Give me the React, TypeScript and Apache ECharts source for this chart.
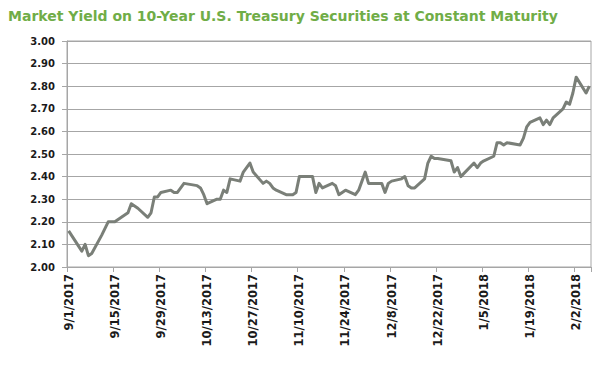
import React, { useEffect, useRef } from "react";
import * as echarts from "echarts";

const titleText = "Market Yield on 10-Year U.S. Treasury Securities at Constant Maturity";

// Business days with a published yield (percent)
const dates: string[] = [
  "9/1/2017", "9/5/2017", "9/6/2017", "9/7/2017", "9/8/2017",
  "9/11/2017", "9/12/2017", "9/13/2017", "9/14/2017", "9/15/2017",
  "9/18/2017", "9/19/2017", "9/20/2017", "9/21/2017", "9/22/2017",
  "9/25/2017", "9/26/2017", "9/27/2017", "9/28/2017", "9/29/2017",
  "10/2/2017", "10/3/2017", "10/4/2017", "10/5/2017", "10/6/2017",
  "10/10/2017", "10/11/2017", "10/12/2017", "10/13/2017",
  "10/16/2017", "10/17/2017", "10/18/2017", "10/19/2017", "10/20/2017",
  "10/23/2017", "10/24/2017", "10/25/2017", "10/26/2017", "10/27/2017",
  "10/30/2017", "10/31/2017", "11/1/2017", "11/2/2017", "11/3/2017",
  "11/6/2017", "11/7/2017", "11/8/2017", "11/9/2017", "11/10/2017",
  "11/13/2017", "11/14/2017", "11/15/2017", "11/16/2017", "11/17/2017",
  "11/20/2017", "11/21/2017", "11/22/2017", "11/24/2017",
  "11/27/2017", "11/28/2017", "11/29/2017", "11/30/2017", "12/1/2017",
  "12/4/2017", "12/5/2017", "12/6/2017", "12/7/2017", "12/8/2017",
  "12/11/2017", "12/12/2017", "12/13/2017", "12/14/2017", "12/15/2017",
  "12/18/2017", "12/19/2017", "12/20/2017", "12/21/2017", "12/22/2017",
  "12/26/2017", "12/27/2017", "12/28/2017", "12/29/2017",
  "1/2/2018", "1/3/2018", "1/4/2018", "1/5/2018",
  "1/8/2018", "1/9/2018", "1/10/2018", "1/11/2018", "1/12/2018",
  "1/16/2018", "1/17/2018", "1/18/2018", "1/19/2018",
  "1/22/2018", "1/23/2018", "1/24/2018", "1/25/2018", "1/26/2018",
  "1/29/2018", "1/30/2018", "1/31/2018", "2/1/2018", "2/2/2018",
  "2/5/2018", "2/6/2018",
];

const yields: number[] = [
  2.16, 2.07, 2.10, 2.05, 2.06,
  2.14, 2.17, 2.20, 2.20, 2.20,
  2.23, 2.24, 2.28, 2.27, 2.26,
  2.22, 2.24, 2.31, 2.31, 2.33,
  2.34, 2.33, 2.33, 2.35, 2.37,
  2.36, 2.35, 2.32, 2.28,
  2.30, 2.30, 2.34, 2.33, 2.39,
  2.38, 2.42, 2.44, 2.46, 2.42,
  2.37, 2.38, 2.37, 2.35, 2.34,
  2.32, 2.32, 2.32, 2.33, 2.40,
  2.40, 2.40, 2.33, 2.37, 2.35,
  2.37, 2.36, 2.32, 2.34,
  2.32, 2.34, 2.38, 2.42, 2.37,
  2.37, 2.37, 2.33, 2.37, 2.38,
  2.39, 2.40, 2.36, 2.35, 2.35,
  2.39, 2.46, 2.49, 2.48, 2.48,
  2.47, 2.42, 2.44, 2.40,
  2.46, 2.44, 2.46, 2.47,
  2.49, 2.55, 2.55, 2.54, 2.55,
  2.54, 2.57, 2.62, 2.64,
  2.66, 2.63, 2.65, 2.63, 2.66,
  2.70, 2.73, 2.72, 2.77, 2.84,
  2.77, 2.80,
];

const yMin = 2.0;
const yMax = 3.0;
const yStep = 0.1;
const labelEveryDays = 14;

function parseDate(s: string): Date {
  const [m, d, y] = s.split("/").map(Number);
  return new Date(Date.UTC(y, m - 1, d));
}
function fmt(dt: Date): string {
  return `${dt.getUTCMonth() + 1}/${dt.getUTCDate()}/${dt.getUTCFullYear()}`;
}

// Build a calendar-day axis (like a date axis) from the first to the last date
const valueByDate = new Map<string, number>();
dates.forEach((d, i) => valueByDate.set(d, yields[i]));
const calendar: string[] = [];
{
  const start = parseDate(dates[0]).getTime();
  const end = parseDate(dates[dates.length - 1]).getTime();
  for (let t = start; t <= end; t += 86400000) calendar.push(fmt(new Date(t)));
}
const seriesData = calendar.map((d) => (valueByDate.has(d) ? valueByDate.get(d)! : null));

export default function App() {
  const ref = useRef<HTMLDivElement>(null);
  useEffect(() => {
    if (!ref.current) return;
    const chart = echarts.init(ref.current, undefined, { renderer: "svg" });
    const labelFont = {
      fontFamily: "'DejaVu Sans', Verdana, sans-serif",
      fontWeight: "bold" as const,
      color: "#1a1a1a",
    };
    chart.setOption({
      animation: false,
      backgroundColor: "#ffffff",
      title: {
        text: titleText,
        left: 0,
        top: 1,
        padding: 0,
        textStyle: {
          fontFamily: "'DejaVu Sans', Verdana, sans-serif",
          fontWeight: "bold",
          fontSize: 14,
          color: "#70ad47",
        },
      },
      grid: {
        left: 59,
        right: 20,
        top: 33,
        bottom: 113,
        show: true,
        borderColor: "#a6a6a6",
        borderWidth: 1,
        containLabel: false,
      },
      xAxis: {
        type: "category",
        data: calendar,
        boundaryGap: true,
        axisLine: { show: true, lineStyle: { color: "#a6a6a6", width: 1 } },
        axisTick: {
          show: true,
          interval: labelEveryDays - 1,
          length: 5,
          lineStyle: { color: "#a6a6a6" },
        },
        axisLabel: {
          ...labelFont,
          fontSize: 11.5,
          interval: labelEveryDays - 1,
          rotate: 90,
          margin: 7,
        },
        splitLine: { show: false },
      },
      yAxis: {
        type: "value",
        min: yMin,
        max: yMax,
        interval: yStep,
        axisLine: { show: true, lineStyle: { color: "#a6a6a6", width: 1 } },
        axisTick: { show: true, length: 5, lineStyle: { color: "#a6a6a6" } },
        axisLabel: {
          ...labelFont,
          fontSize: 10,
          margin: 12,
          formatter: (v: number) => v.toFixed(2),
        },
        splitLine: { show: true, lineStyle: { color: "#a6a6a6", width: 1 } },
      },
      series: [
        {
          type: "line",
          data: seriesData,
          connectNulls: true,
          showSymbol: false,
          symbol: "none",
          lineStyle: { color: "#7a7f78", width: 3, join: "round" },
        },
      ],
    });
    return () => chart.dispose();
  }, []);
  return <div ref={ref} style={{ width: 603, height: 372 }} />;
}
